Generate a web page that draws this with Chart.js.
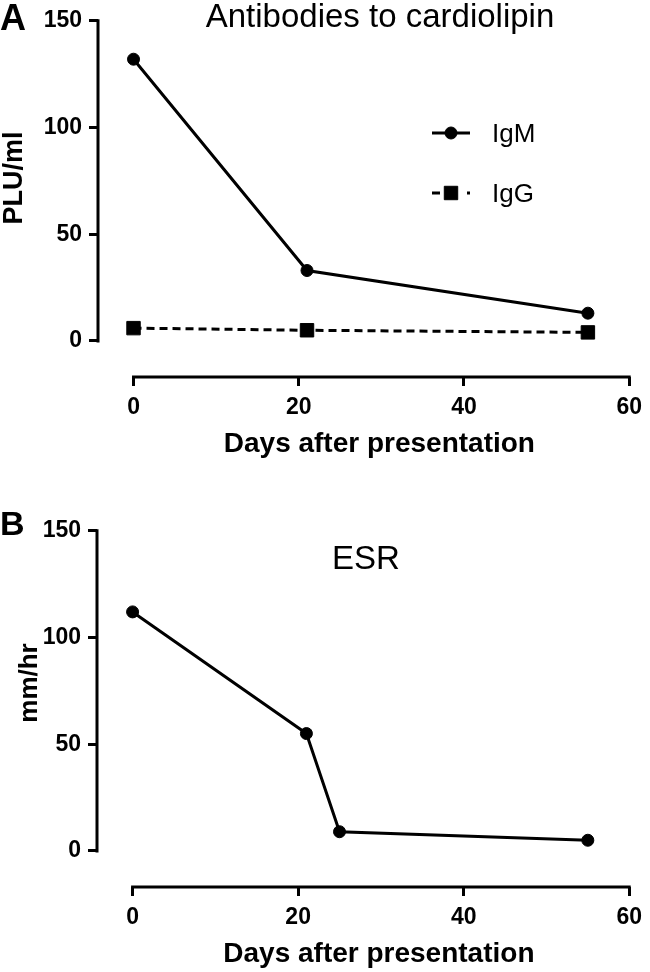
<!DOCTYPE html>
<html>
<head>
<meta charset="utf-8">
<script src="https://cdn.jsdelivr.net/npm/chart.js@4.4.1/dist/chart.umd.min.js"></script>
<style>
  html, body { margin: 0; padding: 0; background: #fff; width: 650px; height: 972px; overflow: hidden; }
  .panel { position: absolute; left: 0; width: 650px; height: 462px; }
  #pa { top: 0; }
  #pb { top: 510px; }
</style>
</head>
<body>
<div class="panel" id="pa"><canvas id="chart-a" width="650" height="462"></canvas></div>
<div class="panel" id="pb"><canvas id="chart-b" width="650" height="462"></canvas></div>
<script>
/* Antibodies to cardiolipin (A) and ESR (B) vs days after presentation */

// ── data ──────────────────────────────────────────────────────────
const DAYS_ACL = [0, 21, 55];
const IGM      = [132, 33, 13];
const IGG      = [6, 5, 4];
const DAYS_ESR = [0, 21, 25, 55];
const ESR      = [112, 55, 9, 5];
const X_TICKS  = [0, 20, 40, 60];
const Y_TICKS  = [0, 50, 100, 150];

const FONT  = "'Liberation Sans', Arial, Helvetica, sans-serif";
const X_MIN = -4.3;   // gap between y axis and x = 0 (Prism-style offset axes)
const Y_MIN = -16.9;  // gap between x axis and y = 0

const pts = (xs, ys) => xs.map((x, i) => ({x, y: ys[i]}));

function text(ctx, s, x, y, font, align = 'left', rot = 0) {
  ctx.save();
  ctx.translate(x, y);
  if (rot) ctx.rotate(rot);
  ctx.font = font;
  ctx.fillStyle = '#000';
  ctx.textAlign = align;
  ctx.textBaseline = 'alphabetic';
  ctx.fillText(s, 0, 0);
  ctx.restore();
}

// Axis lines that stop at the first/last tick, titles, panel letter, legend
const frame = {
  id: 'frame',
  afterDraw(chart, args, o) {
    const {ctx, chartArea: ca, scales: {x, y}} = chart;
    const x0 = x.getPixelForValue(X_TICKS[0]), x1 = x.getPixelForValue(X_TICKS.at(-1));
    const y0 = y.getPixelForValue(Y_TICKS[0]), y1 = y.getPixelForValue(Y_TICKS.at(-1));
    ctx.save();
    ctx.strokeStyle = '#000';
    ctx.lineWidth = 3;
    ctx.beginPath();
    ctx.moveTo(ca.left, y1 - 1.5); ctx.lineTo(ca.left, y0 + 1.5);
    ctx.moveTo(x0 - 1.5, ca.bottom); ctx.lineTo(x1 + 1.5, ca.bottom);
    ctx.stroke();
    ctx.restore();

    text(ctx, o.letter, 0, o.letterY, `bold ${o.letterSize}px ${FONT}`);
    text(ctx, o.title, o.titleX, o.titleY, `33px ${FONT}`, 'center');
    text(ctx, o.yTitle, o.yTitleX, o.yTitleY, `bold ${o.yTitleSize}px ${FONT}`, 'center', -Math.PI / 2);
    text(ctx, 'Days after presentation', (x0 + x1) / 2 - 2, ca.bottom + 75, `bold 28px ${FONT}`, 'center');

    if (o.legend) {
      chart.data.datasets.forEach((ds, i) => {
        const ly = o.legendY + i * 60, lx = o.legendX;
        ctx.save();
        ctx.strokeStyle = ds.borderColor;
        ctx.fillStyle = ds.pointBackgroundColor;
        ctx.lineWidth = ds.borderWidth;
        // Prism draws the dashed legend sample as "-■·"
        ctx.setLineDash(ds.borderDash ? [8, 27, 3] : []);
        ctx.beginPath();
        ctx.moveTo(lx, ly); ctx.lineTo(lx + 38, ly);
        ctx.stroke();
        ctx.setLineDash([]);
        ctx.lineWidth = ds.pointBorderWidth;
        Chart.helpers.drawPoint(ctx, {
          pointStyle: ds.pointStyle, radius: ds.pointRadius,
          borderWidth: ds.pointBorderWidth, rotation: 0,
        }, lx + 19, ly);
        ctx.restore();
        text(ctx, ds.label, lx + 60, ly + 9, `26px ${FONT}`);
      });
    }
  },
};

function series(label, data, style = {}) {
  return {
    label, data, showLine: true,
    borderColor: '#000', borderWidth: 3,
    pointBackgroundColor: '#000', pointBorderColor: '#000',
    pointBorderWidth: 1, pointRadius: 6, pointStyle: 'circle',
    ...style,
  };
}

function makeChart(id, datasets, frameOpts) {
  const tickFont = {family: FONT, size: 23, weight: 'bold'};
  const grid = {drawOnChartArea: false, drawTicks: true, tickLength: 9, lineWidth: 3, color: '#000'};
  return new Chart(document.getElementById(id).getContext('2d'), {
    type: 'scatter',
    data: {datasets},
    options: {
      responsive: false, animation: false,
      layout: {padding: {top: 17, right: 13, left: 0, bottom: 0}},
      plugins: {legend: {display: false}, tooltip: {enabled: false}, frame: frameOpts},
      scales: {
        x: {
          type: 'linear', min: X_MIN, max: X_TICKS.at(-1),
          afterBuildTicks: s => { s.ticks = X_TICKS.map(value => ({value})); },
          afterFit: s => { s.height = 85; },
          grid, border: {display: false},
          ticks: {font: tickFont, color: '#000', padding: 8, maxRotation: 0, autoSkip: false},
        },
        y: {
          type: 'linear', min: Y_MIN, max: Y_TICKS.at(-1),
          afterBuildTicks: s => { s.ticks = Y_TICKS.map(value => ({value})); },
          afterFit: s => { s.width = frameOpts.axisX; },
          grid, border: {display: false},
          ticks: {font: tickFont, color: '#000', padding: 7, autoSkip: false},
        },
      },
    },
    plugins: [frame],
  });
}

// ── Panel A — antibodies to cardiolipin ───────────────────────────
makeChart('chart-a', [
  series('IgM', pts(DAYS_ACL, IGM)),
  series('IgG', pts(DAYS_ACL, IGG), {borderDash: [8, 5], pointStyle: 'rect', pointRadius: 9.5}),
], {
  axisX: 98,
  letter: 'A', letterY: 30, letterSize: 36,
  title: 'Antibodies to cardiolipin', titleX: 380, titleY: 27,
  yTitle: 'PLU/ml', yTitleX: 22, yTitleY: 178, yTitleSize: 27,
  legend: true, legendX: 432, legendY: 133,
});

// ── Panel B — ESR ─────────────────────────────────────────────────
makeChart('chart-b', [
  series('ESR', pts(DAYS_ESR, ESR)),
], {
  axisX: 97,
  letter: 'B', letterY: 25, letterSize: 34,
  title: 'ESR', titleX: 366, titleY: 59,
  yTitle: 'mm/hr', yTitleX: 37, yTitleY: 173, yTitleSize: 26,
  legend: false,
});
</script>
</body>
</html>
